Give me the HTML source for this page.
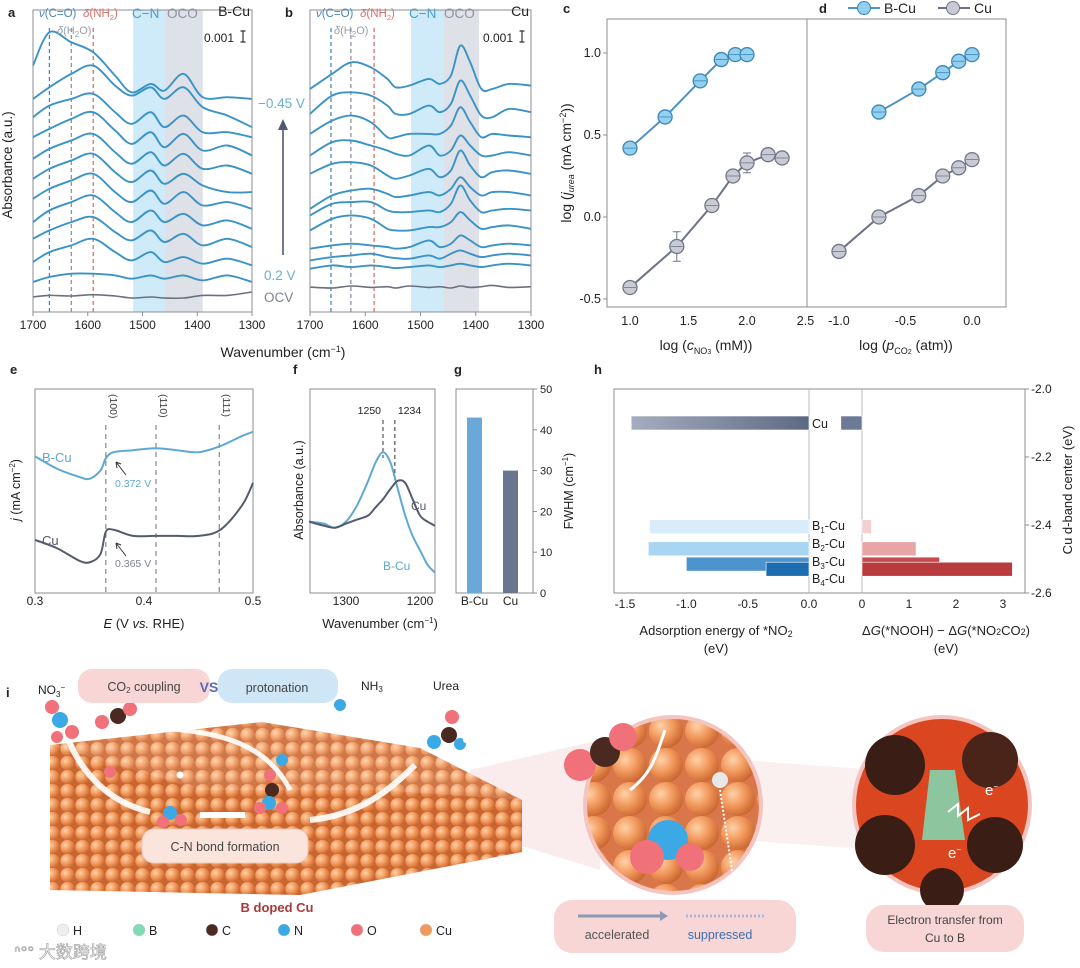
<!DOCTYPE html>
<html><head><meta charset="utf-8"><style>
html,body{margin:0;padding:0;background:#fff;}
svg{display:block;font-family:"Liberation Sans","Noto Sans CJK SC",sans-serif;}
</style></head><body>
<svg id="fig" width="1080" height="968" viewBox="0 0 1080 968" xmlns="http://www.w3.org/2000/svg">
<defs>
  <radialGradient id="cuball" cx="0.35" cy="0.35" r="0.7">
    <stop offset="0" stop-color="#ffd2a8"/><stop offset="0.5" stop-color="#f29a5e"/><stop offset="1" stop-color="#c9652f"/>
  </radialGradient>
  <pattern id="cupat" width="15" height="14" patternUnits="userSpaceOnUse">
    <rect width="15" height="14" fill="#c9652f"/>
    <circle cx="7.5" cy="7" r="7.2" fill="url(#cuball)"/>
  </pattern>
  <pattern id="cupat2" width="36" height="34" patternUnits="userSpaceOnUse">
    <rect width="36" height="34" fill="#d9774a"/>
    <circle cx="18" cy="17" r="17" fill="url(#cuball)"/>
  </pattern>
  <linearGradient id="hcu" x1="0" x2="1"><stop offset="0" stop-color="#a5adc0"/><stop offset="1" stop-color="#5d6984"/></linearGradient>
</defs>
<g id="root"></g>
</svg>
<script>
// ---------- DATA ----------
const aKnots = [1700,1670,1630,1590,1550,1520,1485,1460,1425,1390,1345,1300];
const aSpectra = [
 [740,840,810,780,710,660,685,665,715,645,645,640],
 [640,675,715,740,680,650,675,640,675,615,590,555],
 [585,620,640,655,600,565,600,555,590,540,540,525],
 [525,550,580,600,545,505,540,495,535,485,500,470],
 [460,490,515,535,480,445,480,440,475,430,440,415],
 [400,430,455,475,420,390,425,385,415,380,360,360],
 [340,370,395,415,360,330,365,325,360,320,330,310],
 [270,305,330,350,300,270,305,270,295,260,275,250],
 [220,245,270,285,240,215,245,210,235,200,220,195],
 [150,180,200,220,180,155,180,150,165,145,160,140],
 [90,105,115,115,110,100,110,100,110,95,110,90]
];
const aOCV = [45,50,48,52,48,42,45,42,42,50,50,60];
const bKnots = [1700,1660,1625,1590,1560,1545,1520,1485,1465,1445,1428,1410,1390,1370,1340,1300];
const bSpectra = [
 [670,715,750,735,700,675,680,700,685,710,800,750,670,670,685,680],
 [595,650,660,650,620,595,595,620,600,625,695,650,590,585,610,600],
 [535,575,590,570,525,525,535,535,535,560,615,570,525,535,530,525],
 [470,510,515,500,485,475,470,500,470,485,530,500,470,470,480,470],
 [415,445,450,440,410,400,410,430,405,425,485,440,405,420,425,415],
 [310,350,365,370,355,345,350,360,350,370,405,375,350,360,360,350],
 [290,325,330,330,305,300,300,305,300,325,380,335,300,305,310,305],
 [245,280,290,280,250,245,245,255,255,270,300,275,250,255,260,250],
 [190,200,205,200,195,190,195,215,195,205,230,215,195,200,205,200],
 [155,165,170,175,165,162,160,170,160,175,185,175,165,170,175,170],
 [130,140,135,140,135,132,135,140,135,140,145,140,135,140,145,140]
];
const bOCV = [75,72,78,74,76,72,78,74,76,72,78,74,76,80,74,76];
const specTicks = [1700,1600,1500,1400,1300];
const cBCuX = [1.0,1.3,1.6,1.78,1.9,2.0];
const cBCuY = [0.42,0.61,0.83,0.96,0.99,0.99];
const cCuX = [1.0,1.4,1.7,1.88,2.0,2.18,2.3];
const cCuY = [-0.43,-0.18,0.07,0.25,0.33,0.38,0.36];
const cCuErr = [0.03,0.09,0.02,0.02,0.06,0.02,0.02];
const cXTicks = [1.0,1.5,2.0,2.5];
const cYTicks = [1.0,0.5,0.0,-0.5];
const dBCuX = [-0.7,-0.4,-0.22,-0.1,0.0];
const dBCuY = [0.64,0.78,0.88,0.95,0.99];
const dCuX = [-1.0,-0.7,-0.4,-0.22,-0.1,0.0];
const dCuY = [-0.21,0.0,0.13,0.25,0.30,0.35];
const dXTicks = [-1.0,-0.5,0.0];
const eE = [0.30,0.32,0.34,0.35,0.36,0.365,0.372,0.39,0.41,0.43,0.45,0.47,0.49,0.50];
const eBCu = [67,61,57,56,60,66,69,70,71,70,69,72,77,79];
const eCu = [26,22,16,15,19,30,31,28,28,28,28,31,43,54];
const eFacets = [0.365,0.411,0.469];
const eFacetLabels = ["(100)","(110)","(111)"];
const eTicks = [0.3,0.4,0.5];
const fWn = [1350,1330,1315,1300,1285,1270,1260,1250,1240,1230,1220,1210,1200,1190,1180];
const fBCu = [35,34,32,35,43,55,64,69,64,51,38,28,21,14,10];
const fCu = [35,33,32,34,36,38,42,46,51,55,54,46,38,35,33];
const fTicks = [1300,1200];
const gCats = ["B-Cu","Cu"];
const gFWHM = [43,30];
const gTicks = [0,10,20,30,40,50];
const hCats = ["Cu","B1-Cu","B2-Cu","B3-Cu","B4-Cu"];
const hAds = [-1.45,-1.30,-1.31,-1.00,-0.35];
const hDG = [-0.45,0.20,1.15,1.65,3.20];
const hDband = [-2.10,-2.405,-2.47,-2.515,-2.53];
const hLeftTicks = [-1.5,-1.0,-0.5,0.0];
const hRightTicks = [0,1,2,3];
const hDTicks = [-2.0,-2.2,-2.4,-2.6];

// ---------- HELPERS ----------
const NS="http://www.w3.org/2000/svg";
const root=document.getElementById('root');
function lin(d0,d1,r0,r1){return v=>r0+(v-d0)*(r1-r0)/(d1-d0);}
function mk(tag,attrs,parent){const e=document.createElementNS(NS,tag);for(const k in attrs)e.setAttribute(k,attrs[k]);(parent||root).appendChild(e);return e;}
function txt(x,y,s,o,parent){const t=mk('text',Object.assign({x:x,y:y,'font-size':12,fill:'#222'},o||{}),parent);t.innerHTML=s;return t;}
function smooth(pts){let d=`M${pts[0][0]},${pts[0][1]}`;for(let i=0;i<pts.length-1;i++){const p0=pts[i-1]||pts[i],p1=pts[i],p2=pts[i+1],p3=pts[i+2]||p2;const c1=[p1[0]+(p2[0]-p0[0])/6,p1[1]+(p2[1]-p0[1])/6],c2=[p2[0]-(p3[0]-p1[0])/6,p2[1]-(p3[1]-p1[1])/6];d+=`C${c1[0].toFixed(1)},${c1[1].toFixed(1)} ${c2[0].toFixed(1)},${c2[1].toFixed(1)} ${p2[0].toFixed(1)},${p2[1].toFixed(1)}`;}return d;}
const AX='#8a8d95';

// ---------- PANEL a / b ----------
function specPanel(id,x0,x1,knots,spectra,ocv,bands,dashes,title,letter){
  const g=mk('g',{});
  
  
  const xs=lin(1700,1300,x0,x1), ys=lin(0,880,312,19);
  const top=10,bot=312;
  const r1=mk('rect',{x:xs(bands[0]),y:top,width:xs(bands[1])-xs(bands[0]),height:bot-top,fill:'#cfeaf8'},g);
  
  const r2=mk('rect',{x:xs(bands[1]),y:top,width:xs(bands[2])-xs(bands[1]),height:bot-top,fill:'#dfe1e8'},g);
  
  const dc=['#4a86b8','#8f93a0','#d9706a'];
  dashes.forEach((w,i)=>{const l=mk('line',{x1:xs(w),x2:xs(w),y1:top+18,y2:bot,stroke:dc[i],'stroke-width':1.3,'stroke-dasharray':'4,3'},g);});
  spectra.forEach((s,i)=>{const p=mk('path',{d:smooth(s.map((v,j)=>[xs(knots[j]),ys(v)])),fill:'none',stroke:'#3a93c6','stroke-width':1.9},g);});
  const po=mk('path',{d:smooth(ocv.map((v,j)=>[xs(knots[j]),ys(v)])),fill:'none',stroke:'#6b7080','stroke-width':1.6},g);
  
  const fr=mk('rect',{x:x0,y:top,width:x1-x0,height:bot-top,fill:'none',stroke:AX,'stroke-width':1},g);
  
  specTicks.forEach(t=>{mk('line',{x1:xs(t),x2:xs(t),y1:bot,y2:bot+4,stroke:AX},g);const tl=txt(xs(t),bot+17,t,{'text-anchor':'middle','font-size':12},g);});
  txt(x0-25,17,letter,{'font-weight':'bold','font-size':13},g);
  txt(x0+6,17,'<tspan font-style="italic">ν</tspan>(C=O)',{fill:'#4a86b8','font-size':11.5},g);
  txt(x0+50,17,'<tspan font-style="italic">δ</tspan>(NH<tspan font-size="7.5" dy="3">2</tspan><tspan dy="-3">)</tspan>',{fill:'#d9706a','font-size':11.5},g);
  txt(x0+99,18,'C−N',{fill:'#4a9fd0','font-size':13.5},g);
  txt(x0+134,18,'OCO',{fill:'#8f93a0','font-size':13.5},g);
  txt(x1-2,16,title,{'text-anchor':'end','font-size':14},g);
  txt(x0+24,34,'<tspan font-style="italic">δ</tspan>(H<tspan font-size="8" dy="3">2</tspan><tspan dy="-3">O)</tspan>',{fill:'#9a9ea8','font-size':11},g);
  txt(x1-48,42,'0.001',{'font-size':12},g);
  mk('path',{d:`M${x1-9},31 v11 M${x1-11.5},31 h5 M${x1-11.5},42 h5`,stroke:'#333','stroke-width':1.2,fill:'none'},g);
}
specPanel('a',33,252,aKnots,aSpectra,aOCV,[1517,1459,1390],[1670,1630,1590],'B-Cu','a');
specPanel('b',310,531,bKnots,bSpectra,bOCV,[1517,1459,1394],[1662,1626,1584],'Cu','b');
txt(258,108,'−0.45 V',{fill:'#6aaed6','font-size':13.5});
txt(264,280,'0.2 V',{fill:'#6aaed6','font-size':13.5});
txt(264,302,'OCV',{fill:'#7e8290','font-size':13.5});
mk('line',{x1:283,x2:283,y1:255,y2:128,stroke:'#4f5a70','stroke-width':1.6});
mk('path',{d:'M278,130 L283,119 L288,130 Z',fill:'#4f5a70'});
txt(12,165,'Absorbance (a.u.)',{'text-anchor':'middle','font-size':13.5,transform:'rotate(-90 12 165)'});
txt(283,357,'Wavenumber (cm<tspan font-size="9" dy="-5">−1</tspan><tspan dy="5">)</tspan>',{'text-anchor':'middle','font-size':14});

// ---------- PANEL c / d ----------
(function(){
  const g=mk('g',{});
  
  
  const yS=lin(-0.5,1.0,299,53);
  const xc=lin(1.0,2.0,630,747), xd=lin(-1.0,0.0,839,972);
  const fr=mk('rect',{x:607,y:19,width:399,height:288,fill:'none',stroke:AX},g);
  
  mk('line',{x1:807,x2:807,y1:19,y2:307,stroke:AX},g);
  cYTicks.forEach(t=>{mk('line',{x1:603,x2:607,y1:yS(t),y2:yS(t),stroke:AX},g);txt(601,yS(t)+4,t.toFixed(1),{'text-anchor':'end','font-size':12.5},g);});
  cXTicks.forEach(t=>{txt(xc(t),325,t.toFixed(1),{'text-anchor':'middle','font-size':12.5},g);});
  dXTicks.forEach(t=>{txt(xd(t),325,t.toFixed(1),{'text-anchor':'middle','font-size':12.5},g);});
  function series(xs,ys,xsc,fill,stroke,line,err,name){
    const pl=mk('polyline',{points:xs.map((x,i)=>xsc(x)+','+yS(ys[i])).join(' '),fill:'none',stroke:line,'stroke-width':2},g);
    
    xs.forEach((x,i)=>{
      if(err){const e=err[i];mk('path',{d:`M${xsc(x)},${yS(ys[i]+e)} V${yS(ys[i]-e)} M${xsc(x)-4},${yS(ys[i]+e)} h8 M${xsc(x)-4},${yS(ys[i]-e)} h8`,stroke:line,'stroke-width':1,fill:'none'},g);}
      const c=mk('circle',{cx:xsc(x),cy:yS(ys[i]),r:7,fill:fill,stroke:stroke,'stroke-width':1.3},g);
      
      mk('line',{x1:xsc(x)-6,x2:xsc(x)+6,y1:yS(ys[i]),y2:yS(ys[i]),stroke:stroke,'stroke-width':0.8},g);
    });
  }
  series(cBCuX,cBCuY,xc,'#93d0ef','#3a86b7','#4f92c4',null,'c-bcu');
  series(cCuX,cCuY,xc,'#c9cbd4','#70768a','#6d7387',cCuErr,'c-cu');
  series(dBCuX,dBCuY,xd,'#93d0ef','#3a86b7','#4f92c4',null,'d-bcu');
  series(dCuX,dCuY,xd,'#c9cbd4','#70768a','#6d7387',null,'d-cu');
  txt(563,13,'c',{'font-weight':'bold','font-size':13},g);
  txt(819,13,'d',{'font-weight':'bold','font-size':13},g);
  const lg=mk('g',{},g);
  
  mk('line',{x1:848,x2:880,y1:8,y2:8,stroke:'#4f92c4','stroke-width':2},lg);
  mk('circle',{cx:864,cy:8,r:6.5,fill:'#93d0ef',stroke:'#3a86b7'},lg);
  txt(884,13,'B-Cu',{'font-size':14},lg);
  mk('line',{x1:938,x2:970,y1:8,y2:8,stroke:'#6d7387','stroke-width':2},lg);
  mk('circle',{cx:953,cy:8,r:6.5,fill:'#c9cbd4',stroke:'#70768a'},lg);
  txt(974,13,'Cu',{'font-size':14},lg);
  txt(571,163,'log (<tspan font-style="italic">j</tspan><tspan font-size="9" dy="3" font-style="italic">urea</tspan><tspan dy="-3"> (mA cm</tspan><tspan font-size="9" dy="-5">−2</tspan><tspan dy="5">))</tspan>',{'text-anchor':'middle','font-size':14,transform:'rotate(-90 571 163)'},g);
  txt(706,350,'log (<tspan font-style="italic">c</tspan><tspan font-size="9" dy="4">NO<tspan font-size="7">3</tspan></tspan><tspan dy="-4"> (mM))</tspan>',{'text-anchor':'middle','font-size':14},g);
  txt(906,350,'log (<tspan font-style="italic">p</tspan><tspan font-size="9" dy="4">CO<tspan font-size="7">2</tspan></tspan><tspan dy="-4"> (atm))</tspan>',{'text-anchor':'middle','font-size':14},g);
})();

// ---------- PANEL e ----------
(function(){
  const g=mk('g',{});
  
  
  const xS=lin(0.3,0.5,35,253), yS=lin(0,100,593,389);
  mk('rect',{x:35,y:389,width:218,height:204,fill:'none',stroke:AX},g);
  eFacets.forEach((f,i)=>{mk('line',{x1:xS(f),x2:xS(f),y1:425,y2:593,stroke:'#6b7080','stroke-dasharray':'5,4'},g);txt(xS(f)+4,394,eFacetLabels[i],{'font-size':10.5,transform:`rotate(90 ${xS(f)+4} 394)`,fill:'#444'},g);});
  const p1=mk('path',{d:smooth(eE.map((e,i)=>[xS(e),yS(eBCu[i])])),fill:'none',stroke:'#5fa8d3','stroke-width':2},g);
  
  const p2=mk('path',{d:smooth(eE.map((e,i)=>[xS(e),yS(eCu[i])])),fill:'none',stroke:'#555b6e','stroke-width':2},g);
  
  eTicks.forEach(t=>txt(xS(t),605,t.toFixed(1),{'text-anchor':'middle','font-size':12},g));
  txt(10,374,'e',{'font-weight':'bold','font-size':13},g);
  txt(42,462,'B-Cu',{fill:'#5fa8d3','font-size':13},g);
  txt(42,545,'Cu',{fill:'#555b6e','font-size':13},g);
  mk('path',{d:'M126,475 L116,462 M116,462 l1,6 M116,462 l5,2',stroke:'#333',fill:'none'},g);
  txt(115,487,'0.372 V',{fill:'#5fa8d3','font-size':10.5},g);
  mk('path',{d:'M126,556 L116,543 M116,543 l1,6 M116,543 l5,2',stroke:'#333',fill:'none'},g);
  txt(115,567,'0.365 V',{fill:'#7e8290','font-size':10.5},g);
  txt(20,490,'<tspan font-style="italic">j</tspan> (mA cm<tspan font-size="8" dy="-5">−2</tspan><tspan dy="5">)</tspan>',{'text-anchor':'middle','font-size':12.5,transform:'rotate(-90 20 490)'},g);
  txt(144,628,'<tspan font-style="italic">E</tspan> (V <tspan font-style="italic">vs.</tspan> RHE)',{'text-anchor':'middle','font-size':13},g);
})();

// ---------- PANEL f ----------
(function(){
  const g=mk('g',{});
  
  
  const xS=lin(1300,1200,346,420), yS=lin(0,100,593,389);
  mk('rect',{x:310,y:389,width:125,height:204,fill:'none',stroke:AX},g);
  mk('line',{x1:xS(1250),x2:xS(1250),y1:420,y2:458,stroke:'#333','stroke-dasharray':'4,3'},g);
  mk('line',{x1:xS(1234),x2:xS(1234),y1:420,y2:480,stroke:'#333','stroke-dasharray':'4,3'},g);
  txt(xS(1250)-2,414,'1250',{'text-anchor':'end','font-size':10.5},g);
  txt(xS(1234)+3,414,'1234',{'font-size':10.5},g);
  const p1=mk('path',{d:smooth(fWn.map((w,i)=>[xS(w),yS(fBCu[i])])),fill:'none',stroke:'#5fa8d3','stroke-width':2},g);
  
  const p2=mk('path',{d:smooth(fWn.map((w,i)=>[xS(w),yS(fCu[i])])),fill:'none',stroke:'#555b6e','stroke-width':2},g);
  
  fTicks.forEach(t=>txt(xS(t),605,t,{'text-anchor':'middle','font-size':12},g));
  txt(293,374,'f',{'font-weight':'bold','font-size':13},g);
  txt(411,510,'Cu',{fill:'#555b6e','font-size':12},g);
  txt(383,570,'B-Cu',{fill:'#5fa8d3','font-size':12},g);
  txt(303,490,'Absorbance (a.u.)',{'text-anchor':'middle','font-size':12.5,transform:'rotate(-90 303 490)'},g);
  txt(380,628,'Wavenumber (cm<tspan font-size="8" dy="-5">−1</tspan><tspan dy="5">)</tspan>',{'text-anchor':'middle','font-size':13},g);
})();

// ---------- PANEL g ----------
(function(){
  const g=mk('g',{});
  
  
  const yS=lin(0,50,593,389), xs=[467,503], cols=['#6aa8d8','#6a7590'];
  mk('rect',{x:456,y:389,width:77,height:204,fill:'none',stroke:AX},g);
  gFWHM.forEach((v,i)=>{const b=mk('rect',{x:xs[i],y:yS(v),width:15,height:593-yS(v),fill:cols[i]},g);txt(xs[i]+7.5,605,gCats[i],{'text-anchor':'middle','font-size':12},g);});
  gTicks.forEach(t=>{mk('line',{x1:533,x2:537,y1:yS(t),y2:yS(t),stroke:AX},g);txt(540,yS(t)+4,t,{'font-size':11},g);});
  txt(454,374,'g',{'font-weight':'bold','font-size':13},g);
  txt(573,491,'FWHM (cm<tspan font-size="8" dy="-5">−1</tspan><tspan dy="5">)</tspan>',{'text-anchor':'middle','font-size':12.5,transform:'rotate(-90 573 491)'},g);
})();

// ---------- PANEL h ----------
(function(){
  const g=mk('g',{});
  
  
  const xL=lin(-1.5,0,625,809), xR=lin(0,3,862,1003), yS=lin(-2.0,-2.6,389,593);
  mk('rect',{x:614,y:389,width:411,height:204,fill:'none',stroke:AX},g);
  mk('line',{x1:809,x2:809,y1:389,y2:593,stroke:'#b8bbc3'},g);
  mk('line',{x1:862,x2:862,y1:389,y2:593,stroke:'#b8bbc3'},g);
  const lc=['url(#hcu)','#d8edf9','#a8d6f2','#4d93cd','#1c6cb0'], rc=['#6d7a96','#f5cfcf','#e9a5a5','#c94b4f','#b93b3d'];
  const labs=['Cu','B<tspan font-size="8" dy="3">1</tspan><tspan dy="-3">-Cu</tspan>','B<tspan font-size="8" dy="3">2</tspan><tspan dy="-3">-Cu</tspan>','B<tspan font-size="8" dy="3">3</tspan><tspan dy="-3">-Cu</tspan>','B<tspan font-size="8" dy="3">4</tspan><tspan dy="-3">-Cu</tspan>'];
  const labY=[428,530,548,566,583];
  hCats.forEach((c,i)=>{
    const y=yS(hDband[i])-7;
    const b1=mk('rect',{x:xL(hAds[i]),y:y,width:xL(0)-xL(hAds[i]),height:14,fill:lc[i],stroke:'#fff','stroke-width':0.6},g);
    
    const x0=Math.min(xR(0),xR(hDG[i])),w=Math.abs(xR(hDG[i])-xR(0));
    const b2=mk('rect',{x:x0,y:y,width:w,height:14,fill:rc[i],stroke:'#fff','stroke-width':0.6},g);
    
    txt(812,labY[i],labs[i],{'font-size':12.5},g);
  });
  hLeftTicks.forEach(t=>txt(xL(t),608,t.toFixed(1),{'text-anchor':'middle','font-size':12},g));
  hRightTicks.forEach(t=>txt(xR(t),608,t,{'text-anchor':'middle','font-size':12},g));
  hDTicks.forEach(t=>{mk('line',{x1:1025,x2:1029,y1:yS(t),y2:yS(t),stroke:AX},g);txt(1031,yS(t)+4,t.toFixed(1),{'font-size':12},g);});
  txt(594,374,'h',{'font-weight':'bold','font-size':13},g);
  txt(716,635,'Adsorption energy of *NO<tspan font-size="9" dy="2">2</tspan>',{'text-anchor':'middle','font-size':13},g);
  txt(716,653,'(eV)',{'text-anchor':'middle','font-size':13},g);
  txt(946,635,'Δ<tspan font-style="italic">G</tspan>(*NOOH) − Δ<tspan font-style="italic">G</tspan>(*NO<tspan font-size="9">2</tspan>CO<tspan font-size="9">2</tspan>)',{'text-anchor':'middle','font-size':13},g);
  txt(946,653,'(eV)',{'text-anchor':'middle','font-size':13},g);
  txt(1072,490,'Cu d-band center (eV)',{'text-anchor':'middle','font-size':13,transform:'rotate(-90 1072 490)'},g);
})();

// ---------- PANEL i (illustration) ----------
(function(){
  const g=mk('g',{});
  
  
  txt(6,697,'i',{'font-weight':'bold','font-size':13},g);
  txt(38,694,'NO<tspan font-size="8" dy="3">3</tspan><tspan font-size="8" dy="-7">−</tspan>',{'font-size':12},g);
  mk('polygon',{points:'470,770 600,740 600,870 470,830',fill:'#f6dada',opacity:0.5},g);
  mk('polygon',{points:'740,760 880,770 880,850 740,840',fill:'#f6dada',opacity:0.4},g);
  const slab=mk('polygon',{points:'50,745 262,722 420,748 522,800 522,852 300,895 50,890',fill:'url(#cupat)'},g);
  
  mk('polygon',{points:'50,745 262,722 420,748 522,800 380,790 200,790',fill:'#fff',opacity:0.12},g);
  mk('path',{d:'M60,712 C70,760 100,800 150,812',stroke:'#fff','stroke-width':6,fill:'none',opacity:0.9},g);
  mk('path',{d:'M150,728 C230,730 270,750 290,790',stroke:'#fff','stroke-width':5,fill:'none',opacity:0.9},g);
  mk('path',{d:'M310,820 C360,815 390,790 415,765',stroke:'#fff','stroke-width':6,fill:'none',opacity:0.9},g);
  mk('path',{d:'M200,815 L245,815',stroke:'#fff','stroke-width':6},g);
  function atom(x,y,r,c){mk('circle',{cx:x,cy:y,r:r,fill:c},g);}
  atom(52,707,7,'#f0717a');atom(60,720,8,'#3ba9e6');atom(72,732,7,'#f0717a');atom(57,737,6,'#f0717a');
  atom(102,722,7,'#f0717a');atom(118,716,8,'#4a2a20');atom(130,709,7,'#f0717a');
  atom(340,705,6,'#3ba9e6');atom(347,698,3,'#fff');atom(333,710,3,'#fff');
  atom(452,717,7,'#f0717a');atom(449,735,8,'#4a2a20');atom(434,742,7,'#3ba9e6');atom(460,744,6,'#3ba9e6');atom(466,740,3,'#fff');
  atom(170,813,7,'#3ba9e6');atom(163,822,6,'#f0717a');atom(181,820,6,'#f0717a');
  atom(270,775,6,'#f0717a');atom(272,790,7,'#4a2a20');atom(269,803,7,'#3ba9e6');atom(260,808,6,'#f0717a');atom(282,808,6,'#f0717a');
  atom(282,760,6,'#3ba9e6');atom(110,772,6,'#f0717a');atom(180,775,3.5,'#fff');
  const p1=mk('rect',{x:78,y:669,width:132,height:34,rx:14,fill:'#f8d6d6'},g);
  
  const p2=mk('rect',{x:218,y:669,width:120,height:34,rx:14,fill:'#cfe6f7'},g);
  
  txt(144,691,'CO<tspan font-size="8" dy="2">2</tspan><tspan dy="-2"> coupling</tspan>',{'text-anchor':'middle','font-size':12.5,fill:'#444'},g);
  txt(209,692,'VS',{'text-anchor':'middle','font-size':14,'font-weight':'bold',fill:'#5a6ab0'},g);
  txt(277,692,'protonation',{'text-anchor':'middle','font-size':12.5,fill:'#444'},g);
  txt(361,690,'NH<tspan font-size="8" dy="2">3</tspan>',{'font-size':12},g);
  txt(433,690,'Urea',{'font-size':12},g);
  const p3=mk('rect',{x:142,y:829,width:166,height:34,rx:12,fill:'#fbe4dc',stroke:'#e9c9bd'},g);
  
  txt(225,851,'C-N bond formation',{'text-anchor':'middle','font-size':12.5,fill:'#444'},g);
  txt(277,912,'B doped Cu',{'text-anchor':'middle','font-size':13,'font-weight':'bold',fill:'#a83a3a'},g);
  mk('circle',{cx:673,cy:805,r:90,fill:'#f4c4c0'},g);
  const c1=mk('circle',{cx:673,cy:805,r:86,fill:'url(#cupat2)'},g);
  
  atom(580,765,16,'#f0717a');atom(605,752,15,'#4a2a20');atom(623,737,14,'#f0717a');
  atom(668,840,20,'#3ba9e6');atom(647,857,17,'#f0717a');atom(690,857,14,'#f0717a');atom(720,780,8,'#e8e8e8');
  mk('path',{d:'M630,790 C650,775 655,760 665,730',stroke:'#fff','stroke-width':3,fill:'none'},g);
  mk('path',{d:'M720,790 L735,890',stroke:'#fff','stroke-width':2,'stroke-dasharray':'2,2',fill:'none'},g);
  mk('circle',{cx:942,cy:805,r:90,fill:'#f4c4c0'},g);
  const c2=mk('circle',{cx:942,cy:805,r:86,fill:'#d9461f'},g);
  
  atom(895,765,30,'#3a1d15');atom(990,760,28,'#4a2419');atom(885,845,30,'#3a1d15');atom(995,845,28,'#3a1d15');atom(942,890,22,'#3a1d15');
  mk('path',{d:'M930,770 L955,770 L965,840 L922,840 Z',fill:'#7fdcb5',opacity:0.85},g);
  mk('path',{d:'M948,812 l10,-8 l0,12 l10,-8 l0,12 l12,-6',stroke:'#fff','stroke-width':2,fill:'none'},g);
  txt(985,795,'e<tspan font-size="8" dy="-6">−</tspan>',{'font-size':15,fill:'#fff'},g);
  txt(948,858,'e<tspan font-size="8" dy="-6">−</tspan>',{'font-size':15,fill:'#fff'},g);
  const p4=mk('rect',{x:554,y:900,width:242,height:53,rx:18,fill:'#f8d6d6'},g);
  
  mk('line',{x1:578,x2:660,y1:916,y2:916,stroke:'#8a9ab5','stroke-width':3},g);
  mk('path',{d:'M660,911 l8,5 l-8,5 z',fill:'#8a9ab5'},g);
  mk('line',{x1:686,x2:765,y1:916,y2:916,stroke:'#a8b8d5','stroke-width':3,'stroke-dasharray':'2,2'},g);
  txt(617,939,'accelerated',{'text-anchor':'middle','font-size':12.5,fill:'#555'},g);
  txt(720,939,'suppressed',{'text-anchor':'middle','font-size':12.5,fill:'#3a6fb0'},g);
  const p5=mk('rect',{x:866,y:905,width:158,height:47,rx:18,fill:'#f8d6d6'},g);
  
  txt(945,924,'Electron transfer from',{'text-anchor':'middle','font-size':12,fill:'#444'},g);
  txt(945,942,'Cu to B',{'text-anchor':'middle','font-size':12,fill:'#444'},g);
  const leg=[['H','#eeeeee',73],['B','#7fdcb5',149],['C','#4a2a20',222],['N','#3ba9e6',294],['O','#f0717a',367],['Cu','#f29a5e',436]];
  leg.forEach(l=>{const c=mk('circle',{cx:l[2]-10,cy:930,r:6,fill:l[1],stroke:'#ccc','stroke-width':0.5},g);txt(l[2],935,l[0],{'font-size':12.5},g);});
  txt(14,958,'ᐢ°° 大数跨境',{'font-size':17,fill:'#ffffff',stroke:'#9a9a9a','stroke-width':0.6},g);
})();
</script>
</body></html>
